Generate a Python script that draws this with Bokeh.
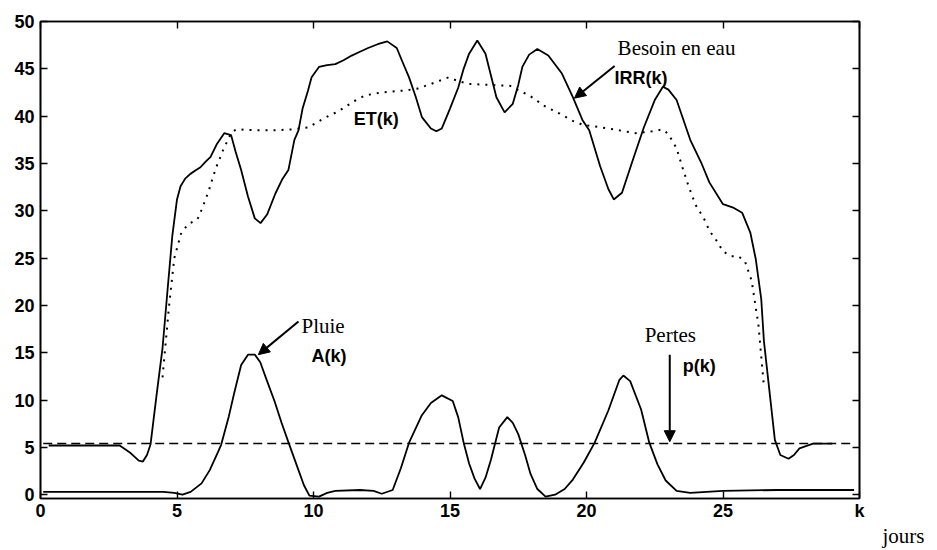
from bokeh.plotting import figure
from bokeh.models import (Range1d, LinearAxis, FixedTicker, Label, Arrow, NormalHead, Title)
from bokeh.embed import file_html
from bokeh.resources import INLINE

# ---- data ----
irr_k = [0.3, 1.0, 2.0, 2.9, 3.3, 3.6, 3.75, 3.9, 4.03, 4.25, 4.47, 4.65, 4.83, 5.0, 5.13, 5.3,
         5.49, 5.7, 5.86, 6.05, 6.23, 6.45, 6.73, 6.98, 7.15, 7.35, 7.6, 7.85, 8.06, 8.3, 8.6,
         8.85, 9.08, 9.3, 9.45, 9.6, 9.8, 9.93, 10.2, 10.5, 10.8, 11.1, 11.4, 11.7, 12.0, 12.35,
         12.7, 13.05, 13.25, 13.5, 13.75, 13.97, 14.3, 14.5, 14.7, 15.0, 15.3, 15.5, 15.7, 16.0,
         16.3, 16.5, 16.7, 17.0, 17.3, 17.5, 17.65, 17.9, 18.2, 18.6, 19.1, 19.5, 19.85, 20.1,
         20.5, 20.8, 21.0, 21.3, 21.7, 22.1, 22.5, 22.8, 23.0, 23.3, 23.8, 24.2, 24.5, 25.0,
         25.4, 25.7, 26.0, 26.2, 26.4, 26.5, 26.7, 26.9, 27.1, 27.4, 27.6, 27.8, 28.3, 29.0]
irr_v = [5.2, 5.2, 5.2, 5.2, 4.4, 3.6, 3.5, 4.2, 5.3, 10.5, 15.5, 21.5, 27.4, 31.2, 32.6, 33.4,
         33.9, 34.3, 34.6, 35.2, 35.7, 37.0, 38.2, 38.0, 36.2, 34.3, 31.5, 29.2, 28.7, 29.6, 31.8,
         33.3, 34.3, 37.5, 38.5, 40.8, 42.7, 44.1, 45.2, 45.4, 45.5, 45.9, 46.4, 46.8, 47.2, 47.6,
         47.9, 47.2, 45.8, 44.1, 42.0, 39.9, 38.7, 38.4, 38.7, 40.8, 43.0, 45.0, 46.6, 48.0,
         46.6, 44.3, 42.0, 40.4, 41.3, 43.3, 45.2, 46.5, 47.1, 46.4, 44.5, 42.0, 39.6, 38.5,
         34.7, 32.3, 31.2, 31.9, 35.4, 38.8, 41.7, 43.1, 42.8, 41.7, 37.5, 35.1, 33.0, 30.7,
         30.3, 29.8, 27.7, 24.9, 20.7, 16.2, 11.0, 5.8, 4.2, 3.8, 4.2, 4.9, 5.4, 5.4]

et_k = [4.47, 4.7, 4.9, 5.16, 5.42, 5.75, 5.9, 6.15, 6.41, 6.7, 7.0, 7.17, 7.98, 8.6, 9.2, 9.8,
        10.4, 10.9, 11.5, 11.9, 12.5, 13.3, 13.8, 14.3, 14.95, 15.3, 15.7, 16.5, 17.2, 17.6,
        17.9, 18.5, 19.0, 19.5, 19.85, 20.8, 21.8, 22.4, 22.8, 23.0, 23.3, 23.5, 23.75, 24.0,
        24.3, 24.5, 24.8, 25.0, 25.3, 25.55, 25.8, 26.05, 26.3, 26.5]
et_v = [12.4, 19.7, 25.0, 27.7, 28.6, 29.1, 30.1, 32.0, 34.4, 36.5, 38.3, 38.6, 38.5, 38.5, 38.6,
        38.8, 39.8, 40.5, 41.6, 42.2, 42.5, 42.7, 42.9, 43.4, 44.1, 43.7, 43.4, 43.3, 43.2, 42.6,
        42.2, 41.0, 40.3, 39.5, 39.1, 38.7, 38.2, 38.4, 38.6, 38.1, 36.6, 34.7, 32.5, 30.6,
        29.2, 27.9, 26.7, 25.7, 25.2, 25.2, 24.7, 22.6, 17.9, 11.4]

rain_k = [0.1, 2.0, 4.5, 4.9, 5.2, 5.5, 5.9, 6.2, 6.5, 6.62, 6.9, 7.1, 7.35, 7.6, 7.85, 8.05,
          8.3, 8.57, 8.83, 9.1, 9.4, 9.65, 9.85, 10.2, 10.5, 10.8, 11.7, 12.2, 12.5, 12.9, 13.2,
          13.5, 13.97, 14.3, 14.7, 15.1, 15.3, 15.5, 15.7, 15.9, 16.1, 16.3, 16.5, 16.8, 17.1,
          17.3, 17.5, 17.75, 17.95, 18.2, 18.5, 18.85, 19.2, 19.5, 19.9, 20.3, 20.8, 21.2, 21.35,
          21.6, 22.0, 22.3, 22.6, 22.9, 23.3, 23.8, 25.0, 27.0, 29.8]
rain_v = [0.3, 0.3, 0.3, 0.2, 0.0, 0.3, 1.2, 2.6, 4.5, 5.3, 8.3, 10.8, 13.7, 14.8, 14.8, 14.0,
          12.0, 9.9, 7.6, 5.4, 3.0, 1.0, -0.1, -0.2, 0.2, 0.4, 0.5, 0.4, 0.1, 0.5, 2.8,
          5.5, 8.4, 9.7, 10.5, 9.9, 8.2, 5.5, 3.3, 1.7, 0.6, 1.8, 3.7, 7.1, 8.2,
          7.6, 6.4, 4.2, 2.2, 0.6, -0.2, 0.0, 0.6, 1.6, 3.4, 5.5, 8.9, 12.1, 12.6,
          12.0, 9.0, 5.5, 3.2, 1.5, 0.4, 0.2, 0.4, 0.5, 0.5]

loss_k = [0.1, 29.8]
loss_v = [5.4, 5.4]

x_ticks = [0, 5, 10, 15, 20, 25, 30]
x_tick_labels = {30: "k"}
y_ticks = [0, 5, 10, 15, 20, 25, 30, 35, 40, 45, 50]

SANS = "Liberation Sans"
SERIF = "Liberation Serif"

p = figure(width=930, height=549, output_backend="svg", toolbar_location=None,
           x_range=Range1d(0, 30), y_range=Range1d(-0.4, 50),
           min_border_left=40, min_border_top=21, min_border_right=71, min_border_bottom=47)
p.grid.visible = False
p.outline_line_color = "black"
p.outline_line_width = 1.6
p.background_fill_color = "white"
p.border_fill_color = "white"

for ax in (p.xaxis[0], p.yaxis[0]):
    ax.major_tick_in = 7
    ax.major_tick_out = 0
    ax.minor_tick_in = 0
    ax.minor_tick_out = 0
    ax.axis_line_width = 1.6
    ax.major_tick_line_width = 1.4
    ax.major_label_text_font = SANS
    ax.major_label_text_font_style = "bold"
    ax.major_label_text_font_size = "18px"
    ax.major_label_text_color = "black"
p.xaxis[0].ticker = FixedTicker(ticks=x_ticks)
p.xaxis[0].major_label_overrides = x_tick_labels
p.xaxis[0].major_label_standoff = 2
p.yaxis[0].ticker = FixedTicker(ticks=y_ticks)
p.yaxis[0].major_label_standoff = 6

# top and right axes: tick marks only (drawn as minor ticks so no labels are produced)
top = LinearAxis(ticker=FixedTicker(ticks=[], minor_ticks=x_ticks), major_tick_in=0,
                 major_tick_out=0, minor_tick_in=7, minor_tick_out=0,
                 axis_line_width=1.6, minor_tick_line_width=1.4)
right = LinearAxis(ticker=FixedTicker(ticks=[], minor_ticks=y_ticks), major_tick_in=0,
                   major_tick_out=0, minor_tick_in=7, minor_tick_out=0,
                   axis_line_width=1.6, minor_tick_line_width=1.4)
p.add_layout(top, "above")
p.add_layout(right, "right")

p.line(irr_k, irr_v, line_color="black", line_width=1.8)
p.line(et_k, et_v, line_color="black", line_width=2, line_dash="2 6")
p.line(rain_k, rain_v, line_color="black", line_width=1.8)
p.line(loss_k, loss_v, line_color="black", line_width=1.5, line_dash="9 5")

def lab(x, y, t, font, size, bold=False):
    p.add_layout(Label(x=x, y=y, text=t, text_font=font, text_font_size=size,
                       text_font_style="bold" if bold else "normal",
                       text_baseline="middle", text_align="left", text_color="black"))

lab(21.14, 47.2, "Besoin en eau", SERIF, "21px")
lab(21.03, 44.0, "IRR(k)", SANS, "18px", True)
lab(11.47, 39.7, "ET(k)", SANS, "18px", True)
lab(9.56, 17.8, "Pluie", SERIF, "21px")
lab(9.93, 14.7, "A(k)", SANS, "18px", True)
lab(22.13, 16.9, "Pertes", SERIF, "21px")
lab(23.53, 13.6, "p(k)", SANS, "18px", True)

# axis unit label, below-right of the frame
p.add_layout(Title(text="jours", align="left", offset=842, standoff=0, vertical_align="top",
                   text_font=SERIF, text_font_size="21px", text_font_style="normal",
                   text_line_height=0.7, text_color="black"), "below")

def arr(x0, y0, x1, y1):
    p.add_layout(Arrow(x_start=x0, y_start=y0, x_end=x1, y_end=y1, line_width=2,
                       end=NormalHead(size=11, fill_color="black", line_color="black")))

arr(21.03, 45.3, 19.56, 41.9)
arr(9.45, 18.3, 7.98, 14.8)
arr(23.05, 14.8, 23.05, 5.6)

open("out.html", "w").write(file_html(p, INLINE))
